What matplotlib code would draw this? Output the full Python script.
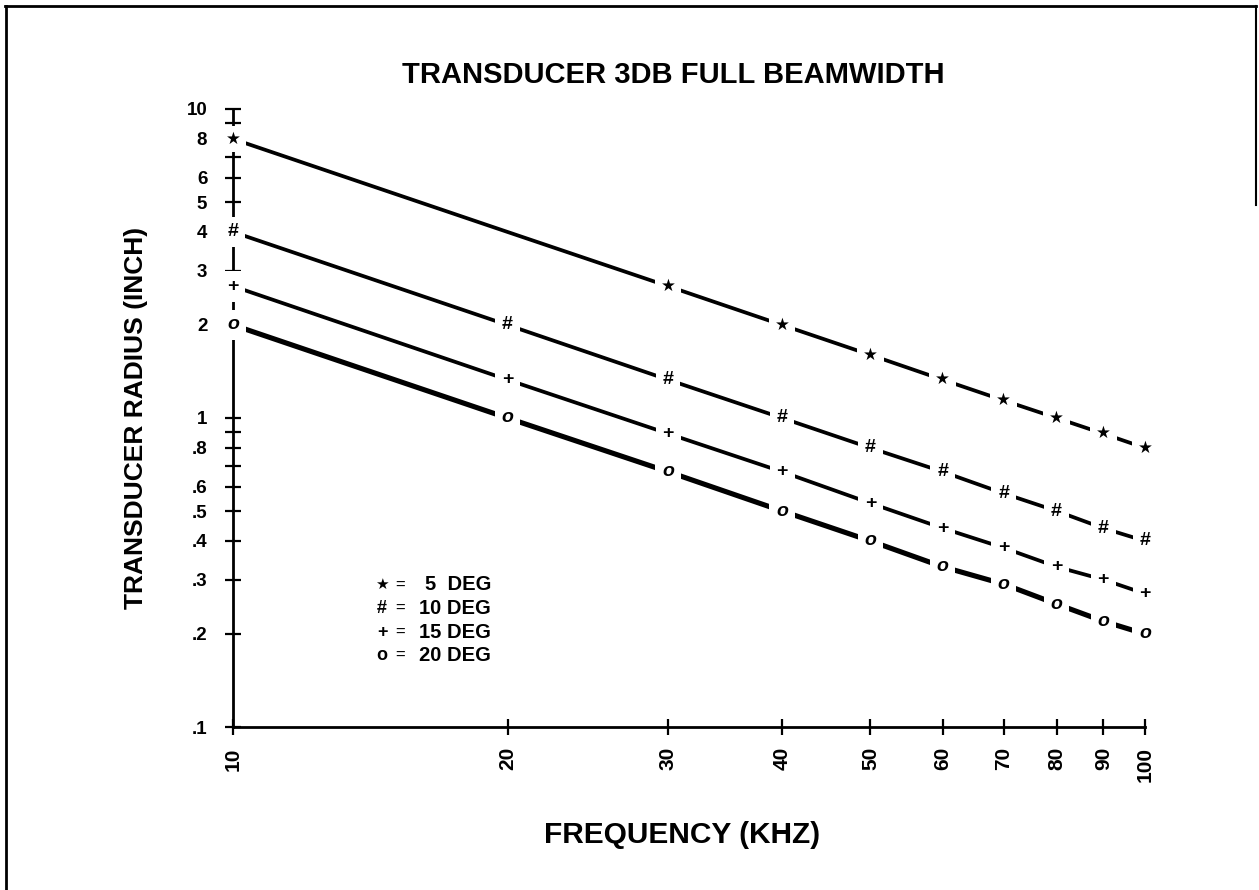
import matplotlib
matplotlib.use("Agg")
import matplotlib.pyplot as plt
from matplotlib.lines import Line2D

plt.rcParams['font.family'] = ['Liberation Sans', 'DejaVu Sans']
plt.rcParams['font.weight'] = 'bold'

# frequency (kHz) and transducer radius (inch)
freq = [10, 20, 30, 40, 50, 60, 70, 80, 90, 100]
r_5deg = [8.0, 4.0, 2.67, 2.0, 1.6, 1.33, 1.14, 1.0, 0.89, 0.8]
r_10deg = [4.0, 2.0, 1.33, 1.0, 0.8, 0.67, 0.57, 0.5, 0.44, 0.4]
r_15deg = [2.67, 1.33, 0.89, 0.67, 0.53, 0.44, 0.38, 0.33, 0.30, 0.27]
r_20deg = [2.0, 1.0, 0.67, 0.5, 0.4, 0.33, 0.29, 0.25, 0.22, 0.2]

symbols = ['\u2605', '#', '+', 'o']
legend_labels = ['5  DEG', '10 DEG', '15 DEG', '20 DEG']
# the 5 deg line has no symbol at 20 kHz
no_symbol = [[20], [], [], []]

y_ticks = [0.1, 0.2, 0.3, 0.4, 0.5, 0.6, 0.8, 1, 2, 3, 4, 5, 6, 8, 10]
y_ticklabels = ['.1', '.2', '.3', '.4', '.5', '.6', '.8', '1', '2', '3', '4', '5', '6', '8', '10']
y_minor = [0.7, 0.9, 7, 9]

W, H = 1259, 890
fig = plt.figure(figsize=(W / 100, H / 100), dpi=100)
ax = fig.add_axes([233 / W, 1 - 727 / H, (1145 - 233) / W, (727 - 109) / H])
ax.set_xscale('log')
ax.set_yscale('log')
ax.set_xlim(10, 100)
ax.set_ylim(0.1, 10)

series = [r_5deg, r_10deg, r_15deg, r_20deg]
widths = [2.7, 2.7, 2.7, 3.7]
for i, r in enumerate(series):
    ax.plot(freq, r, color='black', lw=widths[i], solid_capstyle='butt', clip_on=False, zorder=2)
    for f, v in zip(freq, r):
        if f in no_symbol[i]:
            continue
        sym = symbols[i]
        style = 'italic' if sym == 'o' else 'normal'
        size = 12 if i == 0 else 14
        ax.text(f, v, sym, ha='center', va='center', fontsize=size, fontstyle=style,
                fontweight='bold', zorder=4,
                bbox=dict(boxstyle='square,pad=0.35', fc='white', ec='none'))

for s in ['top', 'right']:
    ax.spines[s].set_visible(False)
for s in ['left', 'bottom']:
    ax.spines[s].set_linewidth(2)

ax.set_xticks(freq)
ax.set_xticklabels([str(f) for f in freq], rotation=90, fontsize=15)
ax.set_xticks([], minor=True)
ax.set_yticks(y_ticks)
ax.set_yticklabels(y_ticklabels, fontsize=13.5)
ax.set_yticks(y_minor, minor=True)
ax.yaxis.set_minor_formatter(plt.NullFormatter())
ax.tick_params(which='both', direction='inout', length=11, width=1.6)
ax.tick_params(axis='x', pad=9)
ax.tick_params(axis='y', pad=13)

fig.text(673 / W, 1 - 75 / H, 'TRANSDUCER 3DB FULL BEAMWIDTH', ha='center', va='center', fontsize=21)
fig.text(682 / W, 1 - 835 / H, 'FREQUENCY (KHZ)', ha='center', va='center', fontsize=21.5)
fig.text(136 / W, 1 - 418 / H, 'TRANSDUCER RADIUS (INCH)', ha='center', va='center',
         rotation=90, fontsize=19)

# legend written as text
for i in range(4):
    y = 1 - (585 + 23.5 * i) / H
    fig.text(382 / W, y, symbols[i], ha='center', va='center', fontsize=13 if i else 11)
    fig.text(400 / W, y, '=', ha='center', va='center', fontsize=12, fontweight='normal')
    fig.text(491 / W, y, legend_labels[i], ha='right', va='center', fontsize=14.5)

# page frame
fig.add_artist(Line2D([5 / W, 1256 / W], [1 - 6 / H, 1 - 6 / H], color='black', lw=2))
fig.add_artist(Line2D([6 / W, 6 / W], [1 - 6 / H, 0], color='black', lw=2))
fig.add_artist(Line2D([1256 / W, 1256 / W], [1 - 6 / H, 1 - 205 / H], color='black', lw=1.5))

fig.savefig('out.png', dpi=100)
